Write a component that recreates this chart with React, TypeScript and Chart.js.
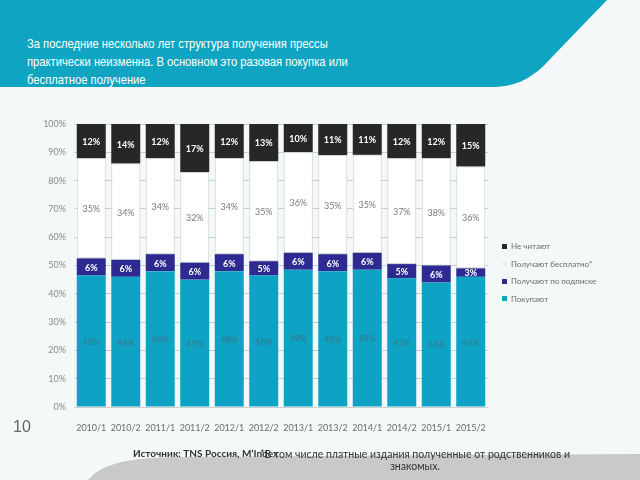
import React, { useEffect, useRef } from "react";
import { Chart, registerables } from "chart.js";

Chart.register(...registerables);

const categories = ["2010/1", "2010/2", "2011/1", "2011/2", "2012/1", "2012/2", "2013/1", "2013/2", "2014/1", "2014/2", "2015/1", "2015/2"];
const buy = [46, 46, 48, 45, 48, 46, 49, 48, 49, 45, 44, 46];
const subscription = [6, 6, 6, 6, 6, 5, 6, 6, 6, 5, 6, 3];
const free = [35, 34, 34, 32, 34, 35, 36, 35, 35, 37, 38, 36];
const notRead = [12, 14, 12, 17, 12, 13, 10, 11, 11, 12, 12, 15];
const yTicks = [0, 10, 20, 30, 40, 50, 60, 70, 80, 90, 100];

const seriesNames = ["Покупают", "Получают по подписке", "Получают бесплатно*", "Не читают"];
const seriesColors = ["#0ea3c4", "#2d2b92", "#ffffff", "#272727"];
const labelColors = ["#33788a", "#ffffff", "#7a7a7a", "#ffffff"];
const labelBold = [false, true, false, true];

const FONT = "Lato, 'Open Sans', sans-serif";

const totals = categories.map((_, i) => buy[i] + subscription[i] + free[i] + notRead[i]);
const share = (arr: number[]) => arr.map((v, i) => (v / totals[i]) * 100);

const labelPlugin = {
  id: "segLabels",
  afterDatasetsDraw(chart: any) {
    const ctx = chart.ctx;
    ctx.save();
    ctx.textAlign = "center";
    ctx.textBaseline = "middle";
    chart.data.datasets.forEach((ds: any, i: number) => {
      const meta = chart.getDatasetMeta(i);
      ctx.font = `${labelBold[i] ? "bold " : ""}9px ${FONT}`;
      ctx.fillStyle = labelColors[i];
      meta.data.forEach((el: any, j: number) => {
        const p = el.getProps(["x", "y", "base"], true);
        ctx.fillText(ds.rawValues[j] + "%", p.x, (p.y + p.base) / 2 + 1);
      });
    });
    ctx.restore();
  },
};

function ChartCanvas() {
  const ref = useRef<HTMLCanvasElement>(null);
  useEffect(() => {
    if (!ref.current) return;
    const raws = [buy, subscription, free, notRead];
    const chart = new Chart(ref.current, {
      type: "bar",
      data: {
        labels: categories,
        datasets: raws.map((arr, i) => ({
          label: seriesNames[i],
          data: share(arr),
          rawValues: arr,
          backgroundColor: seriesColors[i],
          borderColor: i === 2 ? "#cdd2d4" : seriesColors[i],
          borderWidth: i === 2 ? 1 : 0,
          borderSkipped: false,
          barPercentage: 0.84,
          categoryPercentage: 1,
        })) as any,
      },
      options: {
        responsive: false,
        animation: false,
        layout: { padding: { left: 0, right: 152, top: 124, bottom: 0 } },
        plugins: { legend: { display: false }, tooltip: { enabled: false } },
        scales: {
          x: {
            stacked: true,
            grid: { display: false },
            border: { display: false },
            ticks: { font: { family: FONT, size: 9 }, color: "#6b6b6b", padding: 8, maxRotation: 0, autoSkip: false },
            afterFit: (s: any) => { s.height = 73; },
          },
          y: {
            stacked: true,
            min: 0,
            max: 100,
            afterBuildTicks: (s: any) => { s.ticks = yTicks.map((v) => ({ value: v })); },
            ticks: { font: { family: FONT, size: 9 }, color: "#8a8a8a", padding: 8, callback: (v: any) => v + "%" },
            grid: { color: "#c9cfd2", drawTicks: false },
            border: { display: false },
            afterFit: (s: any) => { s.width = 74; },
          },
        },
      },
      plugins: [labelPlugin],
    });
    return () => chart.destroy();
  }, []);
  return <canvas ref={ref} width={640} height={480} style={{ position: "absolute", left: 0, top: 0 }} />;
}

const legendItems = [
  { name: "Не читают", color: "#272727" },
  { name: "Получают бесплатно*", color: "#eef1f2" },
  { name: "Получают по подписке", color: "#2d2b92" },
  { name: "Покупают", color: "#0ea3c4" },
];

export default function App() {
  return (
    <div style={{ position: "fixed", left: 0, top: 0, width: 640, height: 480, background: "#f4f8f9", overflow: "hidden", fontFamily: "'Liberation Sans', Arial, sans-serif" }}>
      <svg width={640} height={480} style={{ position: "absolute", left: 0, top: 0 }}>
        <path d="M0 0 H607 L553 56 C 535 76, 520 87, 490 87 H0 Z" fill="#0fa5c2" />
        <path d="M88 480 C 100 466, 120 458, 175 457 L640 454 L640 480 Z" fill="#c9c9c9" />
      </svg>
      <div style={{ position: "absolute", left: 27, top: 35, color: "#ffffff", fontSize: 13.5, lineHeight: "18px", whiteSpace: "nowrap", transform: "scaleX(0.83)", transformOrigin: "0 0" }}>
        За последние несколько лет структура получения прессы<br />
        практически неизменна. В основном это разовая покупка или<br />
        бесплатное получение
      </div>
      <ChartCanvas />
      {legendItems.map((it, i) => (
        <div key={it.name} style={{ position: "absolute", left: 502, top: 240 + i * 17.5, height: 12, display: "flex", alignItems: "center", fontFamily: FONT, fontSize: 8, color: "#6a6a6a", whiteSpace: "nowrap" }}>
          <span style={{ display: "inline-block", width: 5, height: 5, background: it.color, marginRight: 4 }} />
          {it.name}
        </div>
      ))}
      <div style={{ position: "absolute", left: 13, top: 418, fontSize: 16, color: "#666" }}>10</div>
      <div style={{ position: "absolute", left: 133, top: 447, fontFamily: FONT, fontSize: 10, fontWeight: "bold", color: "#333", whiteSpace: "nowrap" }}>
        Источник: TNS Россия, M’Index
      </div>
      <div style={{ position: "absolute", left: 248, top: 448, width: 334, textAlign: "center", fontFamily: FONT, fontSize: 10.5, lineHeight: "12px", color: "#333" }}>
        *В том числе платные издания полученные от родственников и знакомых.
      </div>
    </div>
  );
}
